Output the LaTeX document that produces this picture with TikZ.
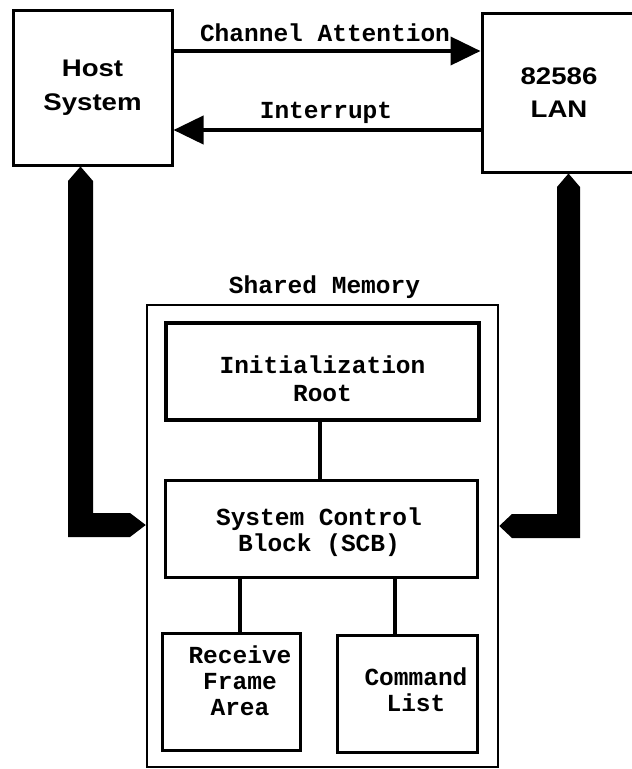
\documentclass[tikz,border=0pt]{standalone}
\usepackage{fontspec}
\setmonofont{Liberation Mono}
\newfontfamily\hostf{Liberation Sans}[FakeStretch=1.15]
\usetikzlibrary{arrows.meta,calc}
\begin{document}
\begin{tikzpicture}[x=1pt,y=-1pt,
  box/.style={draw,line width=3pt,inner sep=0pt},
  sans/.style={font=\hostf\bfseries\fontsize{24}{33.5}\selectfont,align=center},
  mono/.style={font=\ttfamily\bfseries\fontsize{24.5}{26}\selectfont,align=center,inner sep=0pt},
  sig/.style={line width=4pt,-{Triangle[length=30pt,width=28pt]}},
  conn/.style={line width=4pt},
  bus/.style={fill=black}
]
\fill[white] (0,0) rectangle (632,769);
\useasboundingbox (0,0) rectangle (632,769);
\clip (0,0) rectangle (632,769);

% top boxes
\node[box,sans,minimum width=159pt,minimum height=155pt] (host) at (92.5,87.5) {Host\\System};
\node[box,sans,minimum width=154pt,minimum height=159pt] (lan) at (559,92.5) {82586\\LAN};

% signals
\draw[sig] (host.east |- 0,51) -- (lan.west |- 0,51);
\draw[sig] (lan.west |- 0,130) -- (host.east |- 0,130);
\node[mono] (ca) at (325,33) {Channel Attention};
\node[mono] (irq) at (326,113) {Interrupt};

% shared memory
\node[draw,line width=2.5pt,minimum width=351pt,minimum height=462pt] (shm) at (322.5,536) {};
\node[mono] (shmt) at (324.5,287) {Shared Memory};

\node[box,line width=3.5pt,minimum width=313pt,minimum height=97pt,
  label={[mono,name=initt,font=\ttfamily\bfseries\fontsize{24.5}{28}\selectfont,yshift=-7.5pt]center:{Initialization\\Root}}]
  (init) at (322.5,371.5) {};
\node[box,minimum width=312pt,minimum height=97pt,
  label={[mono,name=scbt,xshift=-2pt,yshift=-4pt]center:{System Control\\Block (SCB)}}]
  (scb) at (321,528.5) {};
\node[box,minimum width=138pt,minimum height=117pt,
  label={[mono,name=rcvt,xshift=9pt,yshift=10.5pt]center:{Receive\\Frame\\Area}}]
  (rcv) at (231,691.5) {};
\node[box,minimum width=140pt,minimum height=117pt,
  label={[mono,name=cmdt,xshift=9pt,yshift=3.5pt]center:{Command\\List}}]
  (cmd) at (407,693.5) {};

% connectors
\coordinate (c0) at (320,0);
\coordinate (c1) at (240,0);
\coordinate (c2) at (395,0);
\draw[conn] (init.south -| c0) -- (scb.north -| c0);
\draw[conn] (scb.south -| c1) -- (rcv.north -| c1);
\draw[conn] (scb.south -| c2) -- (cmd.north -| c2);

% buses
\fill[bus] (host.south -| 80.5,0) -- (93,181) -- (93,513) -- (130,513) -- (shm.west |- 0,525)
  -- (130,537) -- (68,537) -- (68,181) -- cycle;
\fill[bus] (lan.south -| 568.5,0) -- (580,187) -- (580,538) -- (512,538) -- (shm.east |- 0,526)
  -- (512,514) -- (557,514) -- (557,187) -- cycle;
\end{tikzpicture}
\end{document}
